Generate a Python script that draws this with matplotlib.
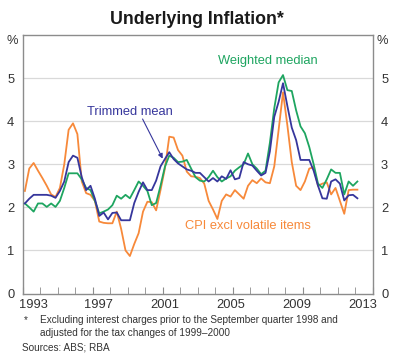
import matplotlib
matplotlib.use("Agg")
import matplotlib.pyplot as plt
import numpy as np

plt.rcParams['font.family'] = ['Liberation Sans', 'DejaVu Sans']

start_year = 1993.125
trimmed_mean = [2.09, 2.2, 2.29, 2.29, 2.29, 2.29, 2.27, 2.22, 2.38, 2.6,
                3.05, 3.2, 3.15, 2.7, 2.4, 2.5, 2.2, 1.8, 1.88, 1.72,
                1.87, 1.88, 1.7, 1.7, 1.7, 2.1, 2.36, 2.58, 2.4, 2.4,
                2.62, 2.95, 3.12, 3.28, 3.12, 3.02, 2.95, 2.88, 2.85, 2.8,
                2.8, 2.7, 2.6, 2.68, 2.6, 2.72, 2.66, 2.86, 2.65, 2.68,
                3.05, 3.0, 2.97, 2.85, 2.74, 2.8, 3.3, 4.1, 4.45, 4.88,
                4.35, 3.85, 3.56, 3.1, 3.1, 3.1, 2.85, 2.5, 2.21, 2.2,
                2.6, 2.65, 2.55, 2.16, 2.28, 2.29, 2.21]
weighted_median = [2.09, 2.0, 1.9, 2.09, 2.09, 2.01, 2.09, 2.01, 2.15, 2.45,
                   2.79, 2.79, 2.79, 2.65, 2.45, 2.4, 2.15, 1.86, 1.9, 1.95,
                   2.05, 2.27, 2.2, 2.29, 2.21, 2.4, 2.6, 2.5, 2.38, 2.05,
                   2.1, 2.5, 2.94, 3.2, 3.15, 3.05, 3.06, 3.1, 2.9, 2.7,
                   2.62, 2.6, 2.7, 2.85, 2.7, 2.6, 2.67, 2.72, 2.85, 2.93,
                   3.0, 3.25, 3.0, 2.9, 2.77, 2.85, 3.5, 4.3, 4.9, 5.07,
                   4.72, 4.7, 4.25, 3.88, 3.72, 3.4, 3.0, 2.55, 2.45, 2.65,
                   2.88, 2.8, 2.8, 2.3, 2.6, 2.5, 2.6]
cpi_excl_volatile = [2.38, 2.9, 3.03, 2.85, 2.68, 2.5, 2.3, 2.24, 2.45, 3.0,
                     3.8, 3.95, 3.7, 2.6, 2.33, 2.29, 2.15, 1.67, 1.64, 1.63,
                     1.63, 1.9, 1.5, 1.0, 0.87, 1.15, 1.4, 1.9, 2.13, 2.12,
                     1.93, 2.4, 2.9, 3.64, 3.62, 3.33, 3.2, 2.83, 2.72, 2.71,
                     2.68, 2.55, 2.15, 1.95, 1.73, 2.15, 2.3, 2.25, 2.4, 2.3,
                     2.2, 2.5, 2.63, 2.56, 2.67, 2.58, 2.56, 2.95, 3.8, 4.67,
                     3.9, 3.05, 2.5, 2.4, 2.6, 2.9, 2.93, 2.5, 2.55, 2.58,
                     2.3, 2.45, 2.15, 1.85, 2.4, 2.41, 2.41]
year_ticks = [1993, 1997, 2001, 2005, 2009, 2013]
y_ticks = [0, 1, 2, 3, 4, 5]

years = start_year + 0.25 * np.arange(len(trimmed_mean))

c_green = '#1ea560'
c_blue = '#36369c'
c_orange = '#f7893a'
c_text = '#333333'

fig = plt.figure(figsize=(3.94, 3.54), dpi=100)
ax = fig.add_axes([22.7 / 394, (354 - 293.5) / 354, 350 / 394, 258.5 / 354])

ax.set_xlim(1993, 2013)
ax.set_ylim(0, 6)
for y in y_ticks[1:]:
    ax.axhline(y, color='#d9d9d9', lw=0.9, zorder=0)

ax.plot(years, cpi_excl_volatile, color=c_orange, lw=1.3, zorder=2)
ax.plot(years, weighted_median, color=c_green, lw=1.3, zorder=3)
ax.plot(years, trimmed_mean, color=c_blue, lw=1.3, zorder=4)

for s in ax.spines.values():
    s.set_color('#8c8c8c')
    s.set_linewidth(1.0)

ax.set_xticks(np.arange(1993, 2014, 1), minor=True)
ax.set_xticks(year_ticks)
ax.set_xticklabels([''] * len(year_ticks))
ax.tick_params(axis='x', which='both', direction='in', length=5, color='#8c8c8c',
               top=False)
# year labels are spread slightly inside the axis ends, as in the original
x0, x1 = ax.get_xlim()
inset = 0.59
span = (x1 - x0) - 2 * inset
for k, yr in enumerate(year_ticks):
    pos = x0 + inset + span * k / (len(year_ticks) - 1)
    ax.text(pos, -0.27, str(yr), fontsize=9.3, color=c_text, ha='center', va='center',
            clip_on=False)

ax.set_yticks(y_ticks)
ax.set_yticklabels([str(y) for y in y_ticks], fontsize=9.3, color=c_text)
ax.tick_params(axis='y', length=0, pad=6, left=True, right=True,
               labelleft=True, labelright=True)

fig.text(12 / 394, 1 - 41 / 354, '%', fontsize=9.3, color=c_text, ha='center', va='center')
fig.text(382 / 394, 1 - 41 / 354, '%', fontsize=9.3, color=c_text, ha='center', va='center')

fig.text(0.5, 1 - 20 / 354, 'Underlying Inflation*', fontsize=12.8, fontweight='bold',
         color='#1a1a1a', ha='center', va='center')

ax.text(2007.0, 5.39, 'Weighted median', color=c_green, fontsize=9.3, ha='center', va='center')
ax.text(1999.1, 4.22, 'Trimmed mean', color=c_blue, fontsize=9.3, ha='center', va='center')
ax.annotate('', xy=(2001.0, 3.13), xytext=(1999.85, 4.05),
            arrowprops=dict(arrowstyle='-|>', color=c_blue, lw=0.8,
                            mutation_scale=7, shrinkA=0, shrinkB=0))
ax.text(2005.85, 1.57, 'CPI excl volatile items', color=c_orange, fontsize=9.3,
        ha='center', va='center')

fig.text(24 / 394, 1 - 320 / 354, '*', fontsize=7.2, color=c_text, ha='left', va='center')
fig.text(40 / 394, 1 - 320 / 354,
         'Excluding interest charges prior to the September quarter 1998 and',
         fontsize=7.2, color=c_text, ha='left', va='center')
fig.text(40 / 394, 1 - 333 / 354, 'adjusted for the tax changes of 1999\u20132000',
         fontsize=7.2, color=c_text, ha='left', va='center')
fig.text(22 / 394, 1 - 347 / 354, 'Sources: ABS; RBA', fontsize=7.2, color=c_text,
         ha='left', va='center')

fig.savefig('out.png', dpi=100)
